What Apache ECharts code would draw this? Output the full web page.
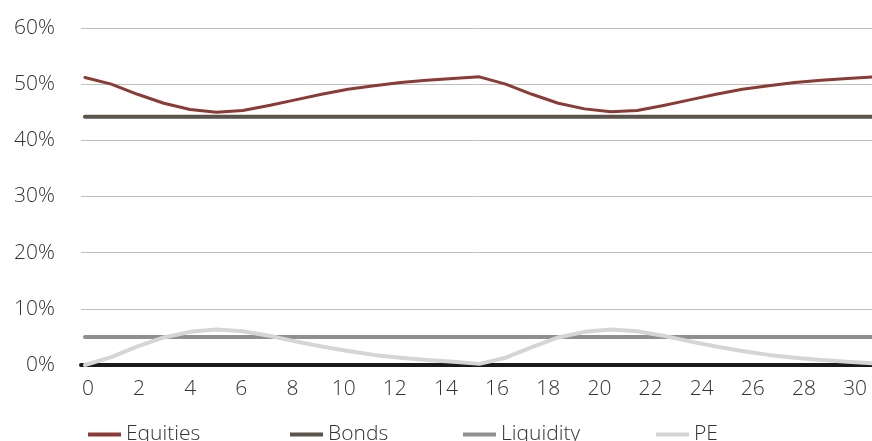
<!DOCTYPE html>
<html>
<head>
<meta charset="utf-8">
<script src="https://cdn.jsdelivr.net/npm/echarts@6/dist/echarts.min.js"></script>
<style>
  html, body { margin: 0; padding: 0; background: #fff; }
  #chart { width: 872px; height: 441px; }
</style>
</head>
<body>
<div id="chart"></div>
<script>
// Period index (x) for every observation
const periods = [0,1,2,3,4,5,6,7,8,9,10,11,12,13,14,15,16,17,18,19,20,21,22,23,24,25,26,27,28,29,30];

// Allocation shares in percent
const equities = [51.2,50.0,48.2,46.6,45.5,45.0,45.3,46.2,47.2,48.2,49.1,49.7,50.3,50.7,51.0,51.3,
                  50.0,48.2,46.6,45.6,45.1,45.3,46.2,47.2,48.2,49.1,49.7,50.3,50.7,51.0,51.3];
const bonds = [44.2,44.2,44.2,44.2,44.2,44.2,44.2,44.2,44.2,44.2,44.2,44.2,44.2,44.2,44.2,44.2,
               44.2,44.2,44.2,44.2,44.2,44.2,44.2,44.2,44.2,44.2,44.2,44.2,44.2,44.2,44.2];
const liquidity = [5,5,5,5,5,5,5,5,5,5,5,5,5,5,5,5,5,5,5,5,5,5,5,5,5,5,5,5,5,5,5];
const pe = [0.0,1.4,3.3,4.9,5.9,6.3,6.0,5.2,4.2,3.3,2.5,1.8,1.3,0.9,0.6,0.2,
            1.3,3.2,4.9,5.9,6.3,6.0,5.2,4.2,3.3,2.5,1.8,1.3,0.9,0.6,0.3];

// Axis tick labels
const xTicks = [0,2,4,6,8,10,12,14,16,18,20,22,24,26,28,30];
const yTicks = [0,10,20,30,40,50,60];

const seriesNames = ['Equities', 'Bonds', 'Liquidity', 'PE'];
const seriesValues = [equities, bonds, liquidity, pe];
const colors = ['#8b3a36', '#5a544b', '#8f8f8f', '#d5d5d5'];
const widths = [3, 4, 4, 4];

const FONT = "'Open Sans', 'Noto Sans', sans-serif";
const TEXT = '#333333';
const WEIGHT = 300;

const chart = echarts.init(document.getElementById('chart'), null, { renderer: 'canvas' });

const legendLefts = [83, 285, 458, 651];

chart.setOption({
  animation: false,
  backgroundColor: '#ffffff',
  color: colors,
  grid: { left: 81, right: 0, top: 28, bottom: 76 },
  legend: seriesNames.map((name, i) => ({
    data: [name],
    left: legendLefts[i],
    top: 419,
    icon: 'rect',
    itemWidth: 33,
    itemHeight: 4,
    itemGap: 11,
    textStyle: { color: TEXT, fontSize: 21, fontFamily: FONT, fontWeight: WEIGHT }
  })),
  xAxis: [
    {
      // data axis carrying the series
      type: 'value',
      position: 'bottom',
      min: -0.15,
      max: 29.93,
      show: false
    },
    {
      // labelled period axis
      type: 'value',
      position: 'bottom',
      min: -0.27,
      max: 30.66,
      axisLine: { show: true, onZero: false, lineStyle: { color: '#1a1a1a', width: 4 } },
      axisTick: { show: false },
      splitLine: { show: false },
      axisLabel: {
        customValues: xTicks,
        color: TEXT,
        fontSize: 21,
        fontFamily: FONT,
        fontWeight: WEIGHT,
        margin: 14
      }
    }
  ],
  yAxis: {
    type: 'value',
    min: yTicks[0],
    max: yTicks[yTicks.length - 1],
    interval: 10,
    axisLine: { show: false },
    axisTick: { show: false },
    splitLine: { lineStyle: { color: '#c0c0c0', width: 1 } },
    axisLabel: {
      formatter: '{value}%',
      color: TEXT,
      fontSize: 21,
      fontFamily: FONT,
      fontWeight: WEIGHT,
      margin: 26
    }
  },
  series: seriesNames.map((name, i) => ({
    name: name,
    type: 'line',
    xAxisIndex: 0,
    data: periods.map((p, j) => [p, seriesValues[i][j]]),
    showSymbol: false,
    symbol: 'none',
    lineStyle: { width: widths[i], color: colors[i], cap: 'round', join: 'round' },
    itemStyle: { color: colors[i] },
    z: 2 + i
  }))
});
</script>
</body>
</html>
